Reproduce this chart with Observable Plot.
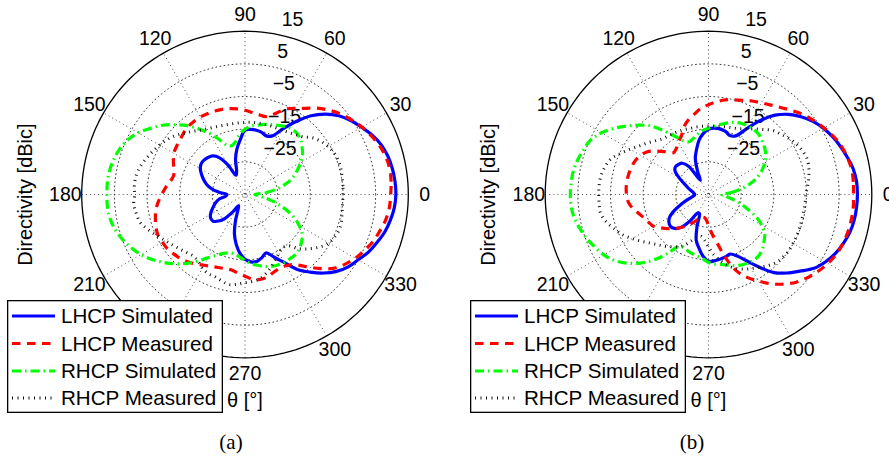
<!DOCTYPE html>
<html>
<head>
<meta charset="utf-8">
<script src="https://cdn.jsdelivr.net/npm/d3@7"></script>
<script src="https://cdn.jsdelivr.net/npm/@observablehq/plot@0.6"></script>
<style>
  body { margin: 0; background: #fff; }
  #wrap { position: relative; width: 889px; height: 459px; overflow: hidden; background: #fff;
          font-family: "Liberation Sans", Arial, sans-serif; }
  .panel { position: absolute; top: 0; }
  .legend { position: absolute; }
  .cap { position: absolute; font-family: "Liberation Serif", "DejaVu Serif", serif; font-size: 21px;
         line-height: 1; transform: translate(-50%, -50%); white-space: nowrap; }
</style>
</head>
<body>
<div id="wrap"></div>
<script>
// ---------------- data ----------------
const angleDeg = [0,5,10,15,20,25,30,35,40,45,50,55,60,65,70,75,80,85,90,95,100,105,110,115,
  120,125,130,135,140,145,150,155,160,165,170,175,180,185,190,195,200,205,210,215,220,225,230,235,
  240,245,250,255,260,265,270,275,280,285,290,295,300,305,310,315,320,325,330,335,340,345,350,355];

const seriesNames = ["LHCP Simulated", "LHCP Measured", "RHCP Simulated", "RHCP Measured"];

// panel (a)
const aLhcpSim = [11.2, 11.1, 10.8, 10.3, 9.4, 8.0, 6.2, 4.5, 2.5, -0.2, -3.5, -7.7,
  -11.8, -15.2, -15.9, -15.3, -15.0, -15.0, -15.3, -18.2, -20.8, -23.8, -27.5, -28.5,
  -24.5, -21.2, -19.6, -19.0, -18.6, -18.6, -19.2, -20.3, -21.5, -22.8, -24.5, -27.0,
  -29.5, -29.0, -27.0, -25.8, -24.8, -23.8, -22.8, -22.2, -22.3, -23.5, -25.5, -28.5,
  -31.0, -30.0, -26.5, -22.5, -19.5, -17.0, -15.2, -14.3, -14.2, -15.0, -16.0, -13.8,
  -11.0, -7.0, -4.0, -1.0, 1.6, 3.6, 5.0, 6.7, 8.0, 9.3, 10.2, 10.9];
const aLhcpMeas = [9.6, 9.9, 10.0, 9.6, 8.8, 7.6, 6.3, 4.8, 3.3, 1.5, -0.5, -2.8,
  -4.5, -6.2, -8.8, -10.3, -10.2, -9.8, -9.2, -8.7, -8.3, -8.0, -7.8, -7.7,
  -7.6, -7.7, -7.9, -8.4, -9.0, -9.4, -9.8, -10.8, -11.8, -12.4, -11.8, -10.6,
  -9.5, -8.3, -7.3, -6.6, -6.0, -5.6, -5.8, -6.0, -6.6, -7.2, -8.0, -9.0,
  -10.0, -10.7, -11.2, -11.5, -11.5, -10.8, -10.0, -9.0, -8.6, -8.8, -9.6, -10.0,
  -9.8, -8.8, -6.2, -3.0, 0.2, 2.3, 4.0, 5.4, 6.8, 7.8, 8.8, 9.4];
const aRhcpSim = [-32.0, -28.5, -25.0, -21.8, -19.3, -17.3, -15.3, -13.5, -12.2, -11.0, -10.4, -10.4,
  -10.9, -11.6, -12.2, -12.8, -13.5, -14.0, -15.0, -16.5, -18.5, -19.5, -19.0, -16.5,
  -13.5, -10.5, -7.5, -4.8, -2.0, 0.3, 2.8, 4.6, 5.8, 6.6, 7.1, 7.3,
  7.3, 7.3, 7.0, 6.2, 5.0, 3.5, 1.8, -0.3, -2.6, -5.0, -7.5, -10.2,
  -12.7, -14.5, -15.8, -16.5, -16.5, -15.8, -14.8, -13.8, -13.0, -12.2, -11.6, -11.2,
  -11.0, -11.0, -11.0, -11.5, -12.4, -13.6, -15.8, -18.5, -21.8, -25.2, -28.5, -31.0];
const aRhcpMeas = [-5.0, -4.9, -4.8, -4.6, -4.6, -4.9, -5.6, -6.6, -8.0, -10.0, -11.0, -11.8,
  -12.2, -12.5, -12.6, -12.7, -12.8, -12.8, -12.9, -13.0, -13.0, -12.9, -12.7, -12.3,
  -11.8, -11.0, -9.8, -8.5, -7.0, -5.8, -4.8, -3.8, -2.8, -1.8, -1.2, -1.0,
  -1.2, -0.8, -1.2, -1.8, -3.5, -5.2, -6.8, -8.0, -9.0, -9.8, -10.4, -10.0,
  -8.9, -8.3, -8.2, -7.6, -7.0, -7.4, -8.0, -8.3, -8.8, -10.0, -11.5, -13.0,
  -14.2, -15.0, -14.5, -11.5, -9.2, -7.0, -5.4, -4.6, -4.2, -4.4, -4.8, -5.0];

// panel (b)
const bLhcpSim = [10.6, 10.5, 10.0, 9.0, 8.0, 6.9, 5.6, 4.0, 2.0, -0.3, -3.3, -7.3,
  -11.8, -15.2, -15.8, -15.0, -14.6, -14.6, -15.0, -16.3, -18.2, -20.8, -23.2, -27.0,
  -30.0, -24.5, -22.5, -22.0, -21.8, -22.5, -24.5, -26.5, -28.0, -29.0, -30.0, -30.5,
  -30.8, -30.5, -29.5, -28.0, -26.0, -23.5, -21.3, -20.2, -19.8, -20.3, -21.8, -25.0,
  -28.5, -28.5, -24.8, -20.5, -18.3, -16.0, -14.5, -14.6, -14.9, -15.2, -15.6, -14.2,
  -11.5, -7.8, -3.8, -1.0, 1.5, 4.4, 6.3, 7.8, 8.9, 9.8, 10.3, 10.5];
const bLhcpMeas = [9.4, 9.5, 9.5, 9.0, 8.3, 7.2, 5.8, 4.4, 3.0, 1.3, -0.3, -1.6,
  -2.6, -3.4, -4.3, -5.0, -5.6, -6.5, -7.5, -8.5, -10.0, -11.3, -13.0, -15.3,
  -16.5, -17.8, -18.3, -16.5, -14.3, -12.2, -11.0, -10.3, -10.0, -9.8, -9.7, -9.7,
  -9.9, -10.3, -11.3, -12.8, -14.0, -14.8, -15.6, -17.2, -18.7, -20.3, -21.8, -23.3,
  -24.8, -26.2, -27.4, -27.8, -27.8, -27.2, -25.5, -23.0, -20.0, -15.0, -10.2, -7.0,
  -4.4, -1.6, 0.8, 3.0, 4.6, 6.0, 7.2, 8.2, 8.8, 9.2, 9.4, 9.5];
const bRhcpSim = [-31.0, -28.0, -24.8, -21.5, -18.9, -16.8, -15.0, -13.6, -12.6, -11.8, -11.0, -10.8,
  -10.8, -11.0, -11.5, -12.3, -13.2, -14.0, -14.7, -15.3, -16.2, -17.2, -17.8, -16.9,
  -14.4, -11.2, -7.6, -5.0, -2.4, 0.3, 2.8, 4.7, 5.6, 6.4, 7.0, 7.2,
  7.3, 7.2, 6.7, 5.7, 4.6, 3.3, 2.0, 0.2, -2.3, -5.3, -8.8, -12.8,
  -16.6, -17.2, -16.6, -16.2, -15.8, -15.2, -14.2, -13.6, -13.3, -12.6, -11.8, -11.2,
  -10.8, -10.6, -10.8, -11.6, -12.8, -14.0, -16.2, -19.0, -22.5, -25.2, -28.0, -30.0];
const bRhcpMeas = [-5.2, -4.5, -3.8, -3.2, -2.9, -3.3, -4.0, -5.0, -6.2, -7.2, -9.0, -10.5,
  -11.8, -12.8, -13.3, -13.6, -13.8, -14.0, -14.0, -14.0, -14.0, -14.0, -13.8, -13.6,
  -13.4, -13.2, -12.8, -11.8, -10.5, -9.1, -7.3, -5.3, -3.2, -2.2, -1.6, -1.4,
  -1.4, -1.4, -1.5, -2.6, -4.3, -5.9, -8.0, -10.0, -11.8, -13.2, -14.3, -15.5,
  -16.5, -18.0, -20.0, -21.5, -22.0, -21.0, -19.0, -16.5, -14.5, -12.5, -11.0, -9.8,
  -8.8, -7.8, -6.6, -5.6, -5.2, -5.0, -5.1, -5.2, -5.3, -5.4, -5.4, -5.3];

// axes (the 240 label is hidden behind the legend in the reference)
const centerDb = -35;
const ringDb = [-25, -15, -5, 5];
const ringLabelDb = [-25, -15, -5, 5, 15];
const outerDb = 15;
const spokeDeg = [0, 30, 60, 90, 120, 150];
const angleLabelDeg = [0, 30, 60, 90, 120, 150, 180, 210, 270, 300, 330];
const yLabel = "Directivity [dBic]";
const thetaLabel = "θ [°]";
const captions = ["(a)", "(b)"];

// ---------------- drawing ----------------
const styles = {
  "LHCP Simulated": {stroke: "#0000ff", strokeWidth: 3.2, dash: null},
  "LHCP Measured":  {stroke: "#ff0000", strokeWidth: 3.2, dash: "8.5,6.5"},
  "RHCP Simulated": {stroke: "#00ff00", strokeWidth: 3.2, dash: "9,4,1.5,4"},
  "RHCP Measured":  {stroke: "#111111", strokeWidth: 3, dash: "1,4.5"}
};

const Rpx = 163.3;
const unitMax = outerDb - centerDb;
const k = Rpx / unitMax;
const cy = 194;
const circleDeg = d3.range(0, 360, 2);

function px(a, db) { const r = Math.max(0, db - centerDb); return r * Math.cos(a * Math.PI / 180); }
function py(a, db) { const r = Math.max(0, db - centerDb); return r * Math.sin(a * Math.PI / 180); }

function makePanel(seriesVals, cx, width) {
  const marks = [];
  const ringPts = ringDb.flatMap(v => circleDeg.map(a => ({v, a})));
  marks.push(Plot.line(ringPts, {x: d => px(d.a, d.v), y: d => py(d.a, d.v), z: "v",
    stroke: "#222", strokeWidth: 0.9, strokeDasharray: "0.9,3.2", curve: "linear-closed"}));
  marks.push(Plot.link(spokeDeg, {
    x1: a => px(a + 180, outerDb), y1: a => py(a + 180, outerDb),
    x2: a => px(a, outerDb), y2: a => py(a, outerDb),
    stroke: "#222", strokeWidth: 0.9, strokeDasharray: "0.9,3.2"}));
  marks.push(Plot.line(circleDeg.map(a => ({a})), {x: d => px(d.a, outerDb), y: d => py(d.a, outerDb),
    stroke: "#000", strokeWidth: 1.3, curve: "linear-closed"}));
  marks.push(Plot.text(ringLabelDb, {x: v => px(82, v), y: v => py(82, v),
    text: v => v < 0 ? "\u2212" + Math.abs(v) : String(v),
    textAnchor: "start", dx: 14, dy: -13.5, fontSize: 19.5, fill: "#000"}));
  marks.push(Plot.text(angleLabelDeg, {x: a => 1.1 * px(a, outerDb), y: a => 1.1 * py(a, outerDb),
    text: a => String(a), fontSize: 19.5, fill: "#000"}));
  marks.push(Plot.text([yLabel], {x: -219.5 / k, y: 0, text: d => d, rotate: -90, fontSize: 20, fill: "#000"}));
  marks.push(Plot.text([thetaLabel], {x: 0, y: -(400 - cy) / k, text: d => d, fontSize: 20, fill: "#000"}));
  seriesNames.forEach((name, i) => {
    const st = styles[name];
    const data = angleDeg.map((a, j) => ({a, db: seriesVals[i][j]}));
    marks.push(Plot.line(data, {x: d => px(d.a, d.db), y: d => py(d.a, d.db),
      stroke: st.stroke, strokeWidth: st.strokeWidth, strokeDasharray: st.dash || undefined,
      strokeLinecap: "butt", strokeLinejoin: "round", curve: "catmull-rom-closed"}));
  });
  return Plot.plot({
    width, height: 459, margin: 0,
    x: {domain: [-unitMax, unitMax], range: [cx - Rpx, cx + Rpx], axis: null},
    y: {domain: [-unitMax, unitMax], range: [cy + Rpx, cy - Rpx], axis: null},
    style: {background: "transparent", overflow: "visible", fontFamily: "'Liberation Sans', Arial, sans-serif"},
    marks
  });
}

function makeLegend() {
  const w = 216, h = 113;
  const svg = d3.create("svg").attr("width", w).attr("height", h)
    .style("font-family", "'Liberation Sans', Arial, sans-serif");
  svg.append("rect").attr("x", 0.65).attr("y", 0.65).attr("width", w - 1.3).attr("height", h - 1.3)
    .attr("fill", "#fff").attr("stroke", "#000").attr("stroke-width", 1.3);
  const rowY = [16, 43.5, 71, 98];
  seriesNames.forEach((name, i) => {
    const st = styles[name];
    svg.append("line").attr("x1", 5).attr("x2", 48).attr("y1", rowY[i]).attr("y2", rowY[i])
      .attr("stroke", st.stroke).attr("stroke-width", st.strokeWidth)
      .attr("stroke-dasharray", st.dash);
    svg.append("text").attr("x", 54).attr("y", rowY[i]).attr("dy", "0.35em")
      .attr("font-size", 20.6).attr("fill", "#000").text(name);
  });
  return svg.node();
}

const wrap = document.getElementById("wrap");
const panels = [
  {vals: [aLhcpSim, aLhcpMeas, aRhcpSim, aRhcpMeas], left: 0, width: 445, cx: 244.5, legendLeft: 7, capX: 231},
  {vals: [bLhcpSim, bLhcpMeas, bRhcpSim, bRhcpMeas], left: 445, width: 444, cx: 263, legendLeft: 470, capX: 692}
];
panels.forEach((p, i) => {
  const div = document.createElement("div");
  div.className = "panel";
  div.style.left = p.left + "px";
  div.appendChild(makePanel(p.vals, p.cx, p.width));
  wrap.appendChild(div);
  const lg = document.createElement("div");
  lg.className = "legend";
  lg.style.left = p.legendLeft + "px";
  lg.style.top = "300px";
  lg.appendChild(makeLegend());
  wrap.appendChild(lg);
  const cap = document.createElement("div");
  cap.className = "cap";
  cap.style.left = p.capX + "px";
  cap.style.top = "442px";
  cap.textContent = captions[i];
  wrap.appendChild(cap);
});
</script>
</body>
</html>
